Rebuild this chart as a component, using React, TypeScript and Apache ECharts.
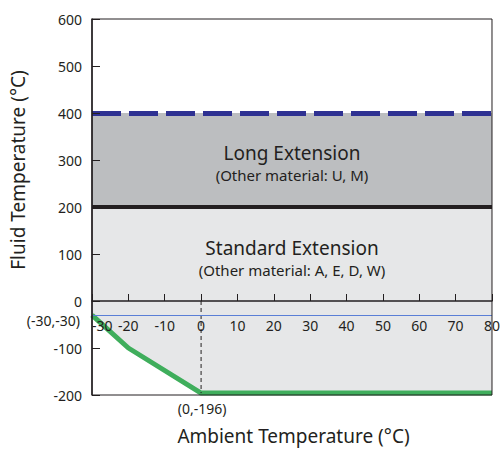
import React, { useEffect, useRef } from "react";
import * as echarts from "echarts";

const ambient = [-30, -20, 0, 80];
const fluidMin = [-30, -100, -196, -196];
const standardMax = 200;
const longMax = 400;
const xMin = -30;
const xMax = 80;
const yMin = -200;
const yMax = 600;
const refLine = -30;
const dashedX = [0, 0];
const dashedY = [0, -196];
const annotations = [
  { text: "(-30,-30)", at: 0 },
  { text: "(0,-196)", at: 2 },
];

const FONT = "Noto Sans";
const DARK = "#231f20";
const W = 503;
const H = 450;
const GRID = { left: 92, right: 8, top: 19, bottom: 55 };

export default function App() {
  const ref = useRef<HTMLDivElement>(null);
  useEffect(() => {
    if (!ref.current) return;
    const chart = echarts.init(ref.current, undefined, { renderer: "svg" });
    const green = ambient.map((x, i) => [x, fluidMin[i]]);
    const plotH = H - GRID.top - GRID.bottom;
    const zeroFromBottom = ((0 - yMin) / (yMax - yMin)) * plotH;
    chart.setOption({
      animation: false,
      textStyle: { fontFamily: FONT, color: DARK },
      grid: {
        ...GRID,
        show: true,
        z: 10,
        borderColor: DARK,
        borderWidth: 1,
        backgroundColor: "rgba(0,0,0,0)",
      },
      xAxis: {
        type: "value",
        min: xMin,
        max: xMax,
        interval: 10,
        z: 6,
        position: "bottom",
        offset: -zeroFromBottom,
        axisLine: { onZero: false, lineStyle: { color: DARK, width: 1.5 } },
        axisTick: { inside: true, length: 7, lineStyle: { color: DARK } },
        axisLabel: {
          margin: 17,
          fontSize: 14,
          color: DARK,
          fontFamily: FONT,
          alignMinLabel: "left",
        },
        splitLine: { show: false },
      },
      yAxis: {
        type: "value",
        min: yMin,
        max: yMax,
        interval: 100,
        z: 6,
        axisLine: { show: true, onZero: false, lineStyle: { color: DARK, width: 1.5 } },
        axisTick: { inside: true, length: 8, lineStyle: { color: DARK } },
        axisLabel: { margin: 10, fontSize: 14, color: DARK, fontFamily: FONT },
        splitLine: { show: false },
      },
      graphic: [
        {
          type: "text",
          x: 293.5,
          y: 436,
          style: {
            text: "Ambient Temperature (°C)",
            align: "center",
            verticalAlign: "middle",
            fontSize: 19,
            fontFamily: FONT,
            fill: DARK,
          },
        },
        {
          type: "text",
          x: 18,
          y: 170,
          rotation: Math.PI / 2,
          style: {
            text: "Fluid Temperature (°C)",
            align: "center",
            verticalAlign: "middle",
            fontSize: 19,
            fontFamily: FONT,
            fill: DARK,
          },
        },
      ],
      series: [
        {
          type: "line",
          data: [],
          z: 1,
          markArea: {
            silent: true,
            data: [
              [
                { yAxis: yMin, itemStyle: { color: "#e6e7e8" } },
                { yAxis: standardMax },
              ],
              [
                { yAxis: standardMax, itemStyle: { color: "#bcbec0" } },
                { yAxis: longMax },
              ],
            ],
          },
        },
        {
          type: "line",
          data: green,
          z: 3,
          showSymbol: false,
          lineStyle: { color: "#3fae5c", width: 5 },
          areaStyle: { color: "#ffffff", opacity: 1, origin: "start" },
          markPoint: {
            symbol: "circle",
            symbolSize: 0,
            silent: true,
            data: annotations.map((a, i) => ({
              coord: green[a.at],
              label: {
                show: true,
                formatter: a.text,
                position: i === 0 ? "left" : "bottom",
                distance: i === 0 ? 12 : 8,
                offset: i === 0 ? [0, 5] : [1, 0],
                fontSize: 14,
                fontFamily: FONT,
                color: DARK,
              },
            })),
          },
        },
        {
          type: "line",
          data: dashedX.map((x, i) => [x, dashedY[i]]),
          z: 4,
          showSymbol: false,
          lineStyle: { color: DARK, width: 1, type: [4, 3] },
        },
        {
          type: "line",
          data: [],
          z: 5,
          markLine: {
            silent: true,
            symbol: "none",
            label: { show: false },
            data: [
              { yAxis: standardMax, lineStyle: { color: DARK, width: 4, type: "solid" } },
              { yAxis: longMax, lineStyle: { color: "#2e3192", width: 5, type: [29, 8] } },
              { yAxis: refLine, lineStyle: { color: "#5a7fd6", width: 1, type: "solid" } },
            ],
          },
          markPoint: {
            symbol: "circle",
            symbolSize: 0,
            silent: true,
            label: {
              show: true,
              fontFamily: FONT,
              color: DARK,
              rich: {
                a: { fontSize: 19, lineHeight: 22, fontFamily: FONT, color: DARK, align: "center" },
                b: { fontSize: 15, lineHeight: 22, fontFamily: FONT, color: DARK, align: "center" },
              },
            },
            data: [
              {
                coord: [(xMin + xMax) / 2, (standardMax + longMax) / 2],
                label: {
                  formatter: "{a|Long Extension}\n{b|(Other material: U, M)}",
                  position: "inside",
                  offset: [0, 4],
                },
              },
              {
                coord: [(xMin + xMax) / 2, standardMax / 2],
                label: {
                  formatter: "{a|Standard Extension}\n{b|(Other material: A, E, D, W)}",
                  position: "inside",
                  offset: [0, 5],
                },
              },
            ],
          },
        },
      ],
    });
    return () => chart.dispose();
  }, []);
  return (
    <div
      ref={ref}
      style={{ position: "absolute", left: 0, top: 0, width: W, height: H }}
    />
  );
}
